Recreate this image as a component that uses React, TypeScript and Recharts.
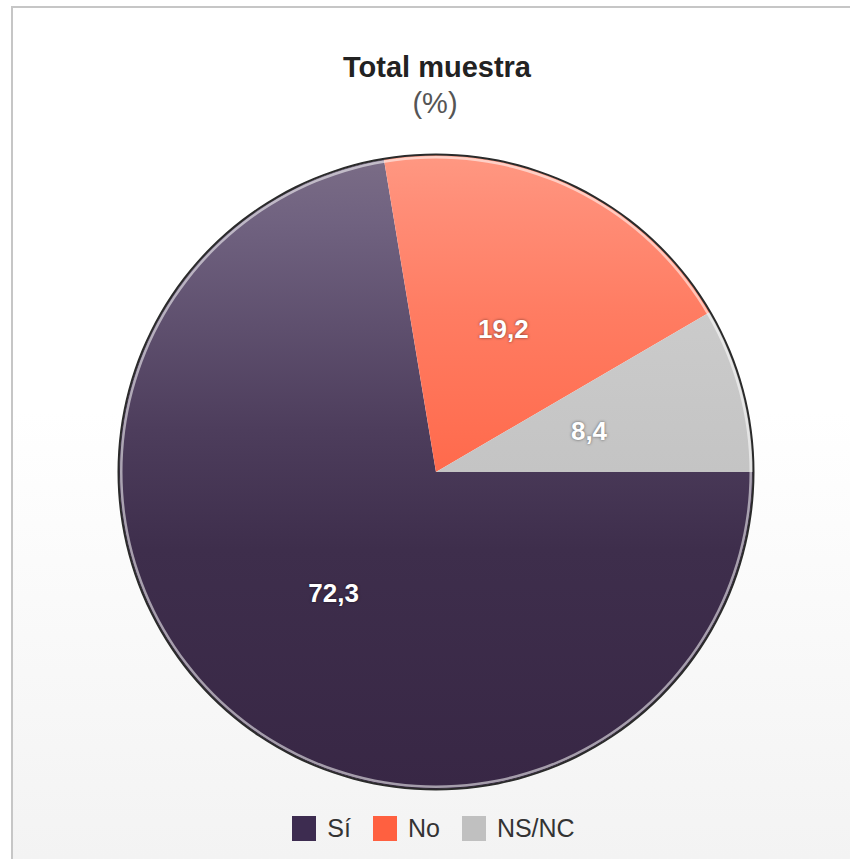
import React from 'react';
import { PieChart, Pie, Cell, Legend } from 'recharts';

const categories = ['Sí', 'No', 'NS/NC'];
const values = [72.3, 19.2, 8.4];
const sliceFills = ['url(#gradSi)', 'url(#gradNo)', 'url(#gradNs)'];
const legendColors = ['#3d2c50', '#ff6040', '#c0c0c0'];
const ringData = [{ v: 1 }];

const data = categories.map((name, i) => ({ name, value: values[i] }));

const RAD = Math.PI / 180;
const FONT = '"Liberation Sans", Arial, Helvetica, sans-serif';

const renderLabel = (props: any) => {
  const { cx, cy, midAngle, outerRadius, index } = props;
  const r = outerRadius * 0.5;
  const x = cx + r * Math.cos(-midAngle * RAD);
  const y = cy + r * Math.sin(-midAngle * RAD);
  return (
    <text
      x={x}
      y={y}
      textAnchor="middle"
      dominantBaseline="central"
      fill="#ffffff"
      style={{ fontFamily: FONT, fontSize: 26, fontWeight: 'bold', textShadow: '0 0 3px rgba(0,0,0,0.55)' }}
    >
      {values[index].toFixed(1).replace('.', ',')}
    </text>
  );
};

const renderLegend = () => (
  <div
    style={{
      display: 'flex',
      justifyContent: 'center',
      alignItems: 'center',
      fontFamily: FONT,
      fontSize: 25,
      color: '#333',
      marginLeft: 17,
    }}
  >
    {categories.map((c, i) => (
      <div key={c} style={{ display: 'flex', alignItems: 'center', marginRight: i < categories.length - 1 ? 22 : 0 }}>
        <span style={{ display: 'inline-block', width: 24, height: 25, background: legendColors[i], marginRight: 11 }} />
        <span style={{ lineHeight: '25px' }}>{c}</span>
      </div>
    ))}
  </div>
);

export default function App() {
  return (
    <div style={{ position: 'absolute', left: 0, top: 0, width: 850, height: 859, overflow: 'hidden', background: '#fff' }}>
      <svg width={0} height={0} style={{ position: 'absolute' }}>
        <defs>
          <linearGradient id="gradSi" x1="0" y1="0" x2="0" y2="1">
            <stop offset="0%" stopColor="#7a6c86" />
            <stop offset="10%" stopColor="#706280" />
            <stop offset="43%" stopColor="#4d3d5c" />
            <stop offset="62%" stopColor="#3e2e4c" />
            <stop offset="100%" stopColor="#382745" />
          </linearGradient>
          <linearGradient id="gradNo" x1="0" y1="0" x2="0" y2="1">
            <stop offset="0%" stopColor="#ff9882" />
            <stop offset="15%" stopColor="#ff8e78" />
            <stop offset="50%" stopColor="#ff7c62" />
            <stop offset="100%" stopColor="#ff6a4c" />
          </linearGradient>
          <linearGradient id="gradNs" x1="0" y1="0" x2="0" y2="1">
            <stop offset="0%" stopColor="#cbcbcb" />
            <stop offset="100%" stopColor="#c4c4c4" />
          </linearGradient>
        </defs>
      </svg>
      <div
        style={{
          position: 'absolute',
          left: 11,
          top: 6,
          width: 900,
          height: 900,
          border: '2px solid #c6c6c6',
          background: 'linear-gradient(to bottom, #ffffff 0%, #ffffff 45%, #f3f3f3 95%)',
          boxSizing: 'border-box',
        }}
      />
      <div
        style={{
          position: 'absolute',
          left: 0,
          width: 874,
          top: 53,
          textAlign: 'center',
          fontFamily: FONT,
          fontSize: 29,
          fontWeight: 'bold',
          lineHeight: '28px',
          color: '#222',
        }}
      >
        Total muestra
      </div>
      <div
        style={{
          position: 'absolute',
          left: 0,
          width: 870,
          top: 89,
          textAlign: 'center',
          fontFamily: FONT,
          fontSize: 29,
          lineHeight: '28px',
          color: '#555',
        }}
      >
        (%)
      </div>
      <div style={{ position: 'absolute', left: 0, top: 0 }}>
        <PieChart width={850} height={859} margin={{ top: 0, right: 0, bottom: 0, left: 0 }}>
          <Pie
            data={data}
            dataKey="value"
            nameKey="name"
            cx={436}
            cy={472}
            outerRadius={317}
            startAngle={360}
            endAngle={0}
            stroke="none"
            label={renderLabel}
            labelLine={false}
            isAnimationActive={false}
          >
            {data.map((d, i) => (
              <Cell key={d.name} fill={sliceFills[i]} stroke="none" />
            ))}
          </Pie>
          <Pie
            data={ringData}
            dataKey="v"
            cx={436}
            cy={472}
            innerRadius={313.5}
            outerRadius={316}
            fill="rgba(255,255,255,0.55)"
            stroke="none"
            legendType="none"
            isAnimationActive={false}
          />
          <Pie
            data={ringData}
            dataKey="v"
            cx={436}
            cy={472}
            innerRadius={316.5}
            outerRadius={318.5}
            fill="#2a2a2a"
            stroke="none"
            legendType="none"
            isAnimationActive={false}
          />
          <Legend
            content={renderLegend}
            wrapperStyle={{ position: 'absolute', left: 0, top: 816, width: 850, height: 26 }}
          />
        </PieChart>
      </div>
    </div>
  );
}
